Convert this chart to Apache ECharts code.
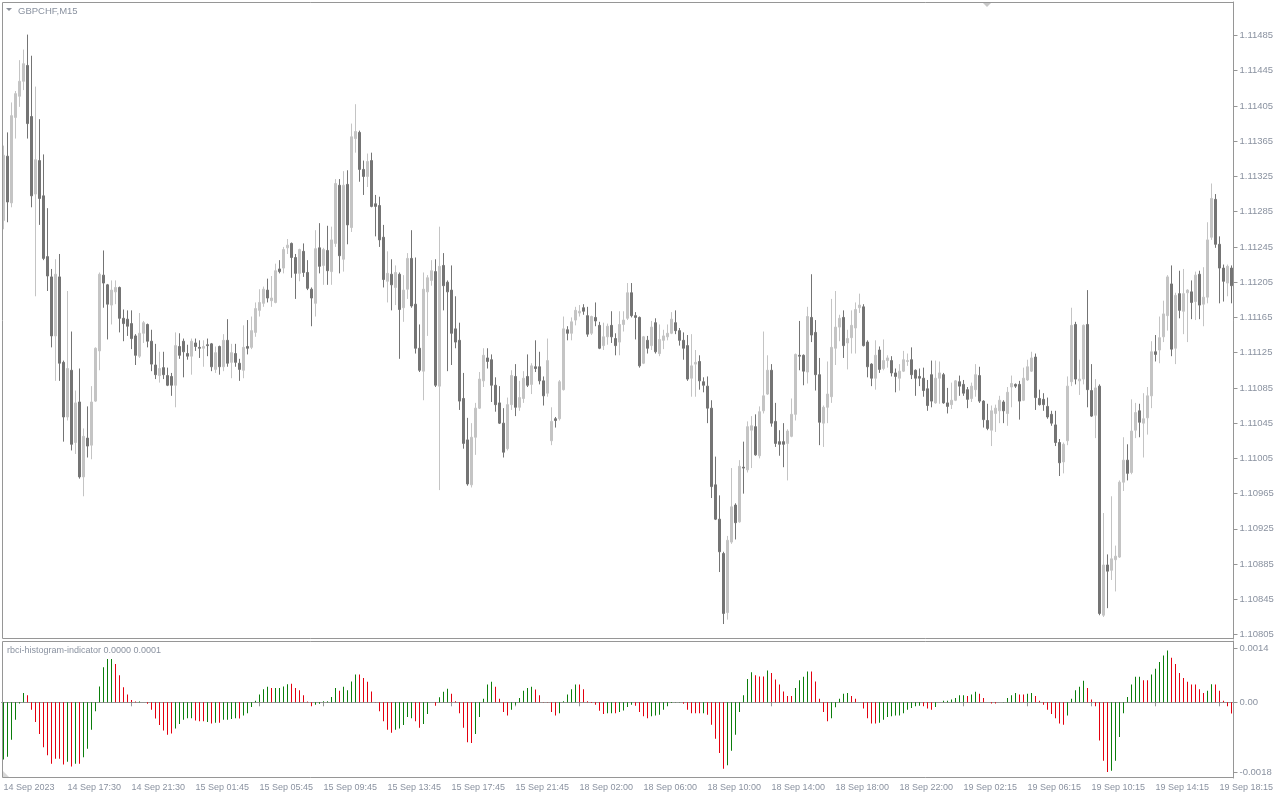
<!DOCTYPE html>
<html><head><meta charset="utf-8">
<script src="https://cdn.jsdelivr.net/npm/echarts@6.0.0/dist/echarts.min.js"></script>
<style>html,body{margin:0;padding:0;background:#fff}#c{width:1280px;height:800px}</style>
</head><body><div id="c"></div>
<script>
// ---- candle data (GBPCHF, M15) ----
const opens = [
1.11275,1.11348,1.11295,1.11392,1.11416,1.11433,1.11451,1.11393,1.11305,1.11343,
1.11303,1.11234,1.11211,1.11144,1.11211,1.11114,1.11052,1.11105,1.11023,1.11069,
1.10984,1.11028,1.11020,1.11070,1.11127,1.11213,1.11202,1.11179,1.11194,1.11199,
1.11164,1.11163,1.11158,1.11144,1.11121,1.11147,1.11157,1.11138,1.11111,1.11099,
1.11108,1.11099,1.11098,1.11088,1.11132,1.11138,1.11124,1.11121,1.11136,1.11131,
1.11130,1.11134,1.11135,1.11106,1.11132,1.11109,1.11139,1.11114,1.11124,1.11113,
1.11105,1.11132,1.11131,1.11148,1.11173,1.11181,1.11196,1.11184,1.11182,1.11220,
1.11221,1.11244,1.11249,1.11233,1.11215,1.11240,1.11216,1.11197,1.11181,1.11244,
1.11224,1.11241,1.11217,1.11249,1.11315,1.11231,1.11316,1.11267,1.11368,1.11375,
1.11333,1.11325,1.11343,1.11294,1.11292,1.11256,1.11206,1.11214,1.11199,1.11214,
1.11176,1.11197,1.11232,1.11180,1.11130,1.11104,1.11194,1.11207,1.11217,1.11087,
1.11224,1.11205,1.11196,1.11152,1.11139,1.11073,1.11026,1.10975,1.11029,1.11062,
1.11093,1.11119,1.11117,1.11088,1.11068,1.11045,1.11016,1.11066,1.11098,1.11063,
1.11073,1.11098,1.11089,1.11109,1.11109,1.11093,1.11079,1.11025,1.11050,1.11050,
1.11083,1.11151,1.11147,1.11162,1.11170,1.11176,1.11167,1.11147,1.11165,1.11156,
1.11133,1.11143,1.11156,1.11141,1.11137,1.11157,1.11164,1.11193,1.11167,1.11165,
1.11113,1.11139,1.11133,1.11159,1.11124,1.11139,1.11143,1.11147,1.11159,1.11150,
1.11139,1.11133,1.11096,1.11112,1.11115,1.11092,1.11087,1.11062,1.10975,1.10936,
1.10897,1.10830,1.10910,1.10952,1.10933,1.10995,1.10992,1.11037,1.11041,1.11008,
1.11059,1.11078,1.11105,1.11047,1.11024,1.11024,1.11022,1.11030,1.11055,1.11122,
1.11122,1.11103,1.11165,1.11148,1.11100,1.11045,1.11063,1.11075,1.11130,1.11154,
1.11165,1.11136,1.11142,1.11153,1.11176,1.11177,1.11137,1.11112,1.11096,1.11128,
1.11107,1.11116,1.11116,1.11102,1.11096,1.11104,1.11115,1.11117,1.11105,1.11098,
1.11096,1.11084,1.11100,1.11068,1.11096,1.11100,1.11068,1.11066,1.11071,1.11092,
1.11089,1.11083,1.11073,1.11083,1.11099,1.11070,1.11048,1.11037,1.11056,1.11059,
1.11069,1.11056,1.11086,1.11089,1.11089,1.11071,1.11094,1.11104,1.11120,1.11073,
1.11072,1.11064,1.11055,1.11043,1.11023,1.11001,1.11025,1.11092,1.11157,1.11093,
1.11095,1.11157,1.11082,1.11054,1.11087,1.10827,1.10884,1.10878,1.10890,1.10893,
1.10978,1.11003,1.10989,1.11037,1.11059,1.11045,1.11051,1.11076,1.11126,1.11128,
1.11143,1.11167,1.11203,1.11130,1.11192,1.11172,1.11193,1.11194,1.11183,1.11214,
1.11180,1.11188,1.11256,1.11299,1.11248,1.11221,1.11204,1.11221];
const highs = [
1.11360,1.11375,1.11409,1.11422,1.11457,1.11469,1.11486,1.11462,1.11427,1.11390,
1.11350,1.11289,1.11220,1.11231,1.11237,1.11116,1.11195,1.11149,1.11082,1.11107,
1.11039,1.11064,1.11087,1.11131,1.11216,1.11241,1.11203,1.11207,1.11207,1.11200,
1.11174,1.11173,1.11173,1.11146,1.11170,1.11161,1.11158,1.11151,1.11135,1.11126,
1.11126,1.11108,1.11102,1.11148,1.11147,1.11141,1.11134,1.11141,1.11141,1.11139,
1.11139,1.11141,1.11136,1.11132,1.11133,1.11146,1.11163,1.11135,1.11135,1.11118,
1.11156,1.11162,1.11166,1.11182,1.11197,1.11200,1.11209,1.11212,1.11226,1.11230,
1.11245,1.11254,1.11250,1.11237,1.11243,1.11249,1.11230,1.11199,1.11264,1.11272,
1.11244,1.11269,1.11268,1.11322,1.11322,1.11331,1.11332,1.11385,1.11407,1.11377,
1.11343,1.11351,1.11352,1.11304,1.11302,1.11270,1.11240,1.11231,1.11224,1.11216,
1.11213,1.11238,1.11264,1.11233,1.11157,1.11216,1.11213,1.11230,1.11231,1.11268,
1.11238,1.11207,1.11224,1.11189,1.11159,1.11102,1.11051,1.11045,1.11068,1.11103,
1.11130,1.11130,1.11123,1.11097,1.11087,1.11062,1.11074,1.11105,1.11112,1.11093,
1.11104,1.11123,1.11113,1.11139,1.11126,1.11098,1.11141,1.11063,1.11052,1.11094,
1.11166,1.11155,1.11165,1.11177,1.11179,1.11180,1.11177,1.11167,1.11182,1.11160,
1.11159,1.11158,1.11172,1.11147,1.11172,1.11172,1.11204,1.11204,1.11171,1.11166,
1.11144,1.11144,1.11161,1.11164,1.11157,1.11151,1.11157,1.11171,1.11173,1.11153,
1.11148,1.11145,1.11146,1.11128,1.11122,1.11097,1.11098,1.11071,1.11007,1.10963,
1.10899,1.10917,1.10994,1.10954,1.11003,1.11024,1.11047,1.11053,1.11055,1.11064,
1.11149,1.11122,1.11112,1.11068,1.11037,1.11045,1.11038,1.11073,1.11124,1.11161,
1.11123,1.11177,1.11214,1.11162,1.11119,1.11065,1.11115,1.11186,1.11195,1.11168,
1.11173,1.11151,1.11173,1.11182,1.11192,1.11180,1.11139,1.11113,1.11139,1.11132,
1.11140,1.11122,1.11121,1.11107,1.11112,1.11127,1.11124,1.11131,1.11106,1.11107,
1.11108,1.11094,1.11116,1.11116,1.11115,1.11102,1.11085,1.11091,1.11094,1.11099,
1.11094,1.11086,1.11091,1.11112,1.11109,1.11071,1.11067,1.11065,1.11066,1.11076,
1.11071,1.11086,1.11099,1.11090,1.11093,1.11108,1.11117,1.11126,1.11124,1.11083,
1.11079,1.11074,1.11059,1.11059,1.11027,1.11023,1.11098,1.11176,1.11160,1.11117,
1.11157,1.11196,1.11112,1.11095,1.11089,1.10943,1.10896,1.10962,1.10906,1.10980,
1.11029,1.11021,1.11072,1.11068,1.11067,1.11079,1.11086,1.11138,1.11145,1.11166,
1.11184,1.11213,1.11224,1.11193,1.11218,1.11220,1.11197,1.11207,1.11217,1.11218,
1.11222,1.11273,1.11317,1.11305,1.11257,1.11225,1.11225,1.11224];
const lows = [
1.11265,1.11273,1.11290,1.11368,1.11404,1.11423,1.11368,1.11290,1.11189,1.11270,
1.11230,1.11195,1.11131,1.11093,1.11093,1.11024,1.11048,1.11014,1.11010,1.10982,
1.10962,1.11006,1.11004,1.11069,1.11105,1.11176,1.11140,1.11157,1.11180,1.11148,
1.11138,1.11144,1.11129,1.11111,1.11119,1.11136,1.11131,1.11104,1.11095,1.11091,
1.11095,1.11087,1.11076,1.11063,1.11118,1.11097,1.11117,1.11100,1.11127,1.11119,
1.11109,1.11121,1.11104,1.11102,1.11100,1.11104,1.11109,1.11096,1.11109,1.11093,
1.11096,1.11123,1.11129,1.11143,1.11166,1.11177,1.11182,1.11177,1.11181,1.11215,
1.11215,1.11237,1.11210,1.11186,1.11206,1.11211,1.11196,1.11155,1.11166,1.11215,
1.11202,1.11202,1.11202,1.11245,1.11215,1.11217,1.11248,1.11262,1.11352,1.11319,
1.11304,1.11313,1.11290,1.11257,1.11245,1.11199,1.11182,1.11173,1.11179,1.11118,
1.11160,1.11186,1.11176,1.11124,1.11103,1.11071,1.11144,1.11201,1.11086,1.10969,
1.11173,1.11104,1.11111,1.11130,1.11060,1.11016,1.10974,1.10972,1.11009,1.11061,
1.11086,1.11107,1.11069,1.11058,1.11044,1.11006,1.11014,1.11060,1.11053,1.11059,
1.11068,1.11086,1.11078,1.11103,1.11089,1.11065,1.11075,1.11020,1.11040,1.11048,
1.11082,1.11139,1.11139,1.11156,1.11166,1.11168,1.11143,1.11145,1.11155,1.11129,
1.11128,1.11134,1.11136,1.11122,1.11122,1.11149,1.11162,1.11165,1.11140,1.11108,
1.11112,1.11124,1.11128,1.11124,1.11121,1.11129,1.11139,1.11146,1.11146,1.11133,
1.11117,1.11093,1.11075,1.11075,1.11083,1.11080,1.11045,1.10960,1.10935,1.10876,
1.10817,1.10822,1.10908,1.10913,1.10932,1.10965,1.10989,1.10994,1.11008,1.11005,
1.11056,1.11077,1.11041,1.11018,1.11008,1.10995,1.10980,1.11029,1.11048,1.11105,
1.11088,1.11090,1.11137,1.11082,1.11020,1.11018,1.11045,1.11068,1.11111,1.11138,
1.11119,1.11106,1.11124,1.11124,1.11170,1.11132,1.11097,1.11087,1.11083,1.11102,
1.11105,1.11108,1.11098,1.11080,1.11082,1.11103,1.11110,1.11095,1.11076,1.11087,
1.11075,1.11059,1.11063,1.11067,1.11067,1.11067,1.11056,1.11061,1.11070,1.11076,
1.11076,1.11062,1.11069,1.11075,1.11068,1.11040,1.11037,1.11019,1.11035,1.11045,
1.11045,1.11042,1.11063,1.11085,1.11049,1.11070,1.11093,1.11103,1.11060,1.11065,
1.11059,1.11050,1.11042,1.11019,1.10985,1.10988,1.11020,1.11087,1.11089,1.11077,
1.11089,1.11063,1.11052,1.11028,1.10827,1.10825,1.10835,1.10867,1.10854,1.10892,
1.10968,1.10980,1.10987,1.11028,1.11029,1.11006,1.11032,1.11062,1.11115,1.11113,
1.11137,1.11150,1.11121,1.11112,1.11164,1.11146,1.11137,1.11163,1.11162,1.11163,
1.11155,1.11181,1.11253,1.11244,1.11181,1.11183,1.11189,1.11181];
const closes = [
1.11349,1.11296,1.11394,1.11419,1.11433,1.11453,1.11385,1.11303,1.11344,1.11300,
1.11232,1.11212,1.11144,1.11214,1.11113,1.11052,1.11107,1.11021,1.11068,1.10984,
1.11030,1.11019,1.11069,1.11130,1.11214,1.11204,1.11180,1.11196,1.11199,1.11164,
1.11158,1.11155,1.11141,1.11122,1.11147,1.11159,1.11138,1.11112,1.11100,1.11107,
1.11100,1.11088,1.11088,1.11133,1.11122,1.11126,1.11121,1.11138,1.11132,1.11130,
1.11132,1.11133,1.11109,1.11125,1.11109,1.11139,1.11113,1.11125,1.11114,1.11106,
1.11131,1.11130,1.11150,1.11175,1.11182,1.11197,1.11187,1.11187,1.11218,1.11217,
1.11242,1.11247,1.11233,1.11215,1.11242,1.11216,1.11198,1.11187,1.11243,1.11223,
1.11242,1.11218,1.11253,1.11317,1.11235,1.11315,1.11270,1.11370,1.11376,1.11333,
1.11325,1.11342,1.11291,1.11291,1.11253,1.11208,1.11215,1.11202,1.11216,1.11174,
1.11196,1.11232,1.11178,1.11130,1.11105,1.11197,1.11210,1.11218,1.11088,1.11223,
1.11201,1.11194,1.11147,1.11137,1.11070,1.11022,1.10976,1.11029,1.11062,1.11095,
1.11122,1.11115,1.11088,1.11066,1.11045,1.11012,1.11066,1.11099,1.11063,1.11074,
1.11096,1.11088,1.11110,1.11107,1.11093,1.11076,1.11116,1.11047,1.11048,1.11092,
1.11152,1.11147,1.11160,1.11173,1.11172,1.11172,1.11146,1.11166,1.11161,1.11130,
1.11143,1.11155,1.11143,1.11133,1.11157,1.11162,1.11193,1.11167,1.11165,1.11110,
1.11143,1.11130,1.11154,1.11126,1.11140,1.11144,1.11147,1.11163,1.11150,1.11139,
1.11130,1.11095,1.11110,1.11114,1.11093,1.11088,1.11062,1.10973,1.10936,1.10899,
1.10829,1.10912,1.10950,1.10932,1.10996,1.10994,1.11041,1.11042,1.11009,1.11058,
1.11076,1.11105,1.11045,1.11022,1.11021,1.11021,1.11036,1.11055,1.11123,1.11121,
1.11104,1.11166,1.11145,1.11100,1.11046,1.11063,1.11078,1.11131,1.11154,1.11164,
1.11133,1.11141,1.11156,1.11174,1.11179,1.11133,1.11109,1.11096,1.11122,1.11106,
1.11116,1.11119,1.11102,1.11098,1.11104,1.11117,1.11116,1.11100,1.11096,1.11096,
1.11082,1.11065,1.11070,1.11096,1.11102,1.11068,1.11064,1.11071,1.11093,1.11087,
1.11079,1.11072,1.11087,1.11100,1.11070,1.11049,1.11039,1.11059,1.11062,1.11071,
1.11059,1.11080,1.11090,1.11087,1.11070,1.11096,1.11109,1.11119,1.11074,1.11066,
1.11066,1.11052,1.11045,1.11023,1.11000,1.11021,1.11087,1.11156,1.11095,1.11095,
1.11156,1.11083,1.11053,1.11085,1.10829,1.10884,1.10877,1.10891,1.10894,1.10978,
1.11003,1.10988,1.11036,1.11057,1.11046,1.11050,1.11076,1.11126,1.11123,1.11142,
1.11169,1.11211,1.11129,1.11190,1.11173,1.11192,1.11196,1.11182,1.11213,1.11179,
1.11188,1.11253,1.11300,1.11248,1.11221,1.11206,1.11223,1.11201];

// ---- rbci histogram ----
const rbci = [
-0.00148,-0.00141,-0.00097,-0.00045,-0.00003,0.00024,0.00018,-0.00019,-0.00051,-0.00082,
-0.00116,-0.00137,-0.00159,-0.00146,-0.00146,-0.00161,-0.00154,-0.00166,-0.00159,-0.00159,
-0.00142,-0.00120,-0.00071,-0.00023,0.00041,0.00091,0.00112,0.00112,0.00099,0.00070,
0.00039,0.00020,0.00006,0.00002,0.00002,0,-0.00004,-0.00019,-0.00042,-0.00059,
-0.00073,-0.00084,-0.00081,-0.00068,-0.00056,-0.00045,-0.00041,-0.00041,-0.00047,-0.00049,
-0.00049,-0.00051,-0.00055,-0.00053,-0.00053,-0.00045,-0.00045,-0.00043,-0.00041,-0.00042,
-0.00034,-0.00028,-0.00012,0.00004,0.00020,0.00034,0.00040,0.00037,0.00037,0.00037,
0.00041,0.00047,0.00048,0.00037,0.00031,0.00018,0.00002,-0.00010,-0.00006,-0.00004,
0.00003,0.00003,0.00014,0.00037,0.00030,0.00040,0.00031,0.00054,0.00072,0.00072,
0.00063,0.00053,0.00028,0.00001,-0.00023,-0.00049,-0.00071,-0.00079,-0.00071,-0.00068,
-0.00059,-0.00038,-0.00041,-0.00049,-0.00066,-0.00056,-0.00030,0,-0.00009,0.00013,
0.00027,0.00035,0.00022,0.00003,-0.00028,-0.00066,-0.00103,-0.00105,-0.00082,-0.00038,
0.00009,0.00046,0.00053,0.00040,0.00009,-0.00025,-0.00034,-0.00019,-0.00006,0.00011,
0.00030,0.00037,0.00040,0.00033,0.00018,0.00001,0.00001,-0.00025,-0.00034,-0.00028,
0.00003,0.00020,0.00034,0.00046,0.00046,0.00034,0.00003,-0.00002,-0.00006,-0.00022,
-0.00030,-0.00028,-0.00028,-0.00028,-0.00025,-0.00021,-0.00012,-0.00006,-0.00009,-0.00025,
-0.00036,-0.00041,-0.00036,-0.00034,-0.00032,-0.00019,-0.00010,-0.00002,0.00001,0.00001,
-0.00004,-0.00019,-0.00028,-0.00028,-0.00028,-0.00028,-0.00032,-0.00058,-0.00094,-0.00131,
-0.00172,-0.00163,-0.00125,-0.00084,-0.00025,0.00018,0.00060,0.00078,0.00070,0.00067,
0.00067,0.00082,0.00076,0.00059,0.00046,0.00028,0.00016,0.00016,0.00037,0.00057,
0.00066,0.00080,0.00080,0.00054,0.00009,-0.00025,-0.00049,-0.00041,-0.00013,0.00009,
0.00022,0.00024,0.00016,0.00009,0,-0.00016,-0.00041,-0.00055,-0.00055,-0.00053,
-0.00045,-0.00038,-0.00036,-0.00034,-0.00034,-0.00028,-0.00019,-0.00015,-0.00010,-0.00009,
-0.00010,-0.00016,-0.00019,-0.00012,0,0.00004,0.00004,0.00007,0.00011,0.00018,
0.00018,0.00016,0.00020,0.00027,0.00022,0.00011,0,-0.00003,-0.00003,0,
0.00001,0.00011,0.00018,0.00024,0.00020,0.00020,0.00022,0.00024,0.00016,0.00004,
-0.00006,-0.00019,-0.00030,-0.00041,-0.00055,-0.00058,-0.00034,0.00009,0.00031,0.00040,
0.00056,0.00037,0.00007,-0.00010,-0.00099,-0.00151,-0.00180,-0.00177,-0.00151,-0.00090,
-0.00028,0.00014,0.00046,0.00066,0.00066,0.00057,0.00057,0.00072,0.00087,0.00104,
0.00121,0.00134,0.00115,0.00099,0.00076,0.00063,0.00053,0.00046,0.00046,0.00034,
0.00024,0.00030,0.00047,0.00046,0.00030,0.00004,-0.00010,-0.00029];
// 1 = green bar, 0 = red bar
const rbciGreen = [
1,1,1,1,1,1,0,0,0,0, 0,0,0,0,0,0,1,0,1,0, 1,1,1,1,1,1,1,1,0,0,
0,0,0,0,1,0,0,0,0,0, 0,0,0,1,1,1,1,1,0,0, 0,1,0,1,0,1,1,1,1,0,
1,1,1,1,1,1,1,0,1,1, 1,1,0,0,0,0,0,0,1,1, 1,1,1,1,0,1,1,1,1,0,
0,0,0,0,0,0,0,0,1,1, 1,1,1,0,0,1,1,0,0,1, 1,1,0,0,0,0,0,0,1,1,
1,1,1,0,0,0,0,1,1,1, 1,1,1,0,0,0,0,0,0,1, 1,1,1,1,0,0,0,0,0,0,
0,1,1,0,1,1,1,1,0,0, 0,0,1,1,1,1,1,1,1,1, 0,0,0,0,0,1,0,0,0,0,
0,1,1,1,1,1,1,1,0,0, 0,1,0,0,0,0,0,0,1,1, 1,1,0,0,0,0,0,1,1,1,
1,1,0,0,0,0,0,0,0,1, 1,1,1,1,1,1,1,1,1,1, 0,0,0,1,0,1,1,1,1,1,
1,0,1,1,0,0,0,0,0,0, 1,1,1,1,0,0,1,1,0,0, 0,0,0,0,0,0,1,1,1,1,
1,0,0,0,0,0,0,1,1,1, 1,1,1,1,1,0,0,1,1,1, 1,1,0,0,0,0,0,0,0,0,
0,1,1,0,0,0,0,0];

// ---- axis ticks / labels ----
const priceTicks = [1.10805,1.10845,1.10885,1.10925,1.10965,1.11005,1.11045,1.11085,1.11125,
  1.11165,1.11205,1.11245,1.11285,1.11325,1.11365,1.11405,1.11445,1.11485];
const indTicks = [0.0014, 0, -0.0018];
const indTickLabels = ['0.0014', '0.00', '-0.0018'];
const timeLabelBars = [0,16,32,48,64,80,96,112,128,144,160,176,192,208,224,240,256,272,288,304];
const timeLabels = ['14 Sep 2023','14 Sep 17:30','14 Sep 21:30','15 Sep 01:45','15 Sep 05:45',
  '15 Sep 09:45','15 Sep 13:45','15 Sep 17:45','15 Sep 21:45','18 Sep 02:00','18 Sep 06:00',
  '18 Sep 10:00','18 Sep 14:00','18 Sep 18:00','18 Sep 22:00','19 Sep 02:15','19 Sep 06:15',
  '19 Sep 10:15','19 Sep 14:15','19 Sep 18:15'];

const UP = '#c4c4c4', DN = '#747474', GREEN = '#0b7d0b', RED = '#e3000e';
const TXT = '#8a92a0', FRAME = '#969696';
const FONT = '"Liberation Sans", Arial, sans-serif';

const cats = opens.map((_, i) => String(i));
const labelAt = {};
timeLabelBars.forEach((b, k) => { labelAt[b] = timeLabels[k]; });
const candles = opens.map((o, i) => [o, closes[i], lows[i], highs[i]]);
const hist = rbci.map((v, i) => ({ value: v, itemStyle: { color: rbciGreen[i] ? GREEN : RED } }));

const chart = echarts.init(document.getElementById('c'), null, { renderer: 'canvas' });
chart.setOption({
  animation: false,
  backgroundColor: '#ffffff',
  grid: [
    { left: 1.5, width: 1232, top: 2, height: 637 },
    { left: 1.5, width: 1232, top: 641, height: 137 }
  ],
  xAxis: [
    { type: 'category', gridIndex: 0, data: cats, boundaryGap: true,
      axisLine: { show: false }, axisTick: { show: false }, axisLabel: { show: false }, splitLine: { show: false } },
    { type: 'category', gridIndex: 1, data: cats, boundaryGap: true,
      axisLine: { show: true, lineStyle: { color: FRAME } },
      axisTick: { show: true, alignWithLabel: true, length: 4, interval: (i) => (i in labelAt), lineStyle: { color: FRAME } },
      axisLabel: { show: true, interval: (i) => (i in labelAt), formatter: (v, i) => labelAt[i] || '',
        align: 'left', color: TXT, fontSize: 9, fontFamily: FONT, margin: 5 },
      splitLine: { show: false } }
  ],
  yAxis: [
    { type: 'value', gridIndex: 0, position: 'right', min: 1.10800, max: 1.11523, scale: true,
      splitLine: { show: false },
      axisLine: { show: true, lineStyle: { color: FRAME } },
      axisTick: { show: true, customValues: priceTicks, length: 4, lineStyle: { color: FRAME } },
      axisLabel: { customValues: priceTicks, formatter: (v) => v.toFixed(5), color: TXT, fontSize: 9.5, fontFamily: FONT, margin: 6 } },
    { type: 'value', gridIndex: 1, position: 'right', min: -0.001958, max: 0.001586,
      splitLine: { show: false },
      axisLine: { show: true, lineStyle: { color: FRAME } },
      axisTick: { show: true, customValues: indTicks, length: 4, lineStyle: { color: FRAME } },
      axisLabel: { customValues: indTicks, color: TXT, fontSize: 9.5, fontFamily: FONT, margin: 6,
        formatter: (v) => { const k = indTicks.findIndex(t => Math.abs(t - v) < 1e-9); return k >= 0 ? indTickLabels[k] : ''; } } }
  ],
  series: [
    { type: 'candlestick', xAxisIndex: 0, yAxisIndex: 0, data: candles, barWidth: 2,
      itemStyle: { color: UP, color0: DN, borderColor: UP, borderColor0: DN, borderColorDoji: DN, borderWidth: 1 } },
    { type: 'bar', xAxisIndex: 1, yAxisIndex: 1, data: hist, barWidth: 1 }
  ],
  graphic: [
    { type: 'rect', z: 100, shape: { x: 2.5, y: 2.5, width: 1231, height: 636 }, style: { fill: null, stroke: FRAME, lineWidth: 1 } },
    { type: 'rect', z: 100, shape: { x: 2.5, y: 641.5, width: 1231, height: 136 }, style: { fill: null, stroke: FRAME, lineWidth: 1 } },
    { type: 'polygon', z: 100, shape: { points: [[6, 8], [12, 8], [9, 11]] }, style: { fill: '#8a8f99' } },
    { type: 'text', z: 100, x: 18, y: 6, style: { text: 'GBPCHF,M15', fill: TXT, font: '9.5px ' + FONT } },
    { type: 'text', z: 100, x: 7, y: 646.5, style: { text: 'rbci-histogram-indicator 0.0000 0.0001', fill: TXT, font: '9px ' + FONT } },
    { type: 'polygon', z: 100, shape: { points: [[983, 3], [991, 3], [987, 7]] }, style: { fill: '#c8c8c8' } },
    { type: 'polygon', z: 100, shape: { points: [[3, 771], [3, 777], [9, 777]] }, style: { fill: '#d8d8d8' } }
  ]
});
</script>
</body></html>
